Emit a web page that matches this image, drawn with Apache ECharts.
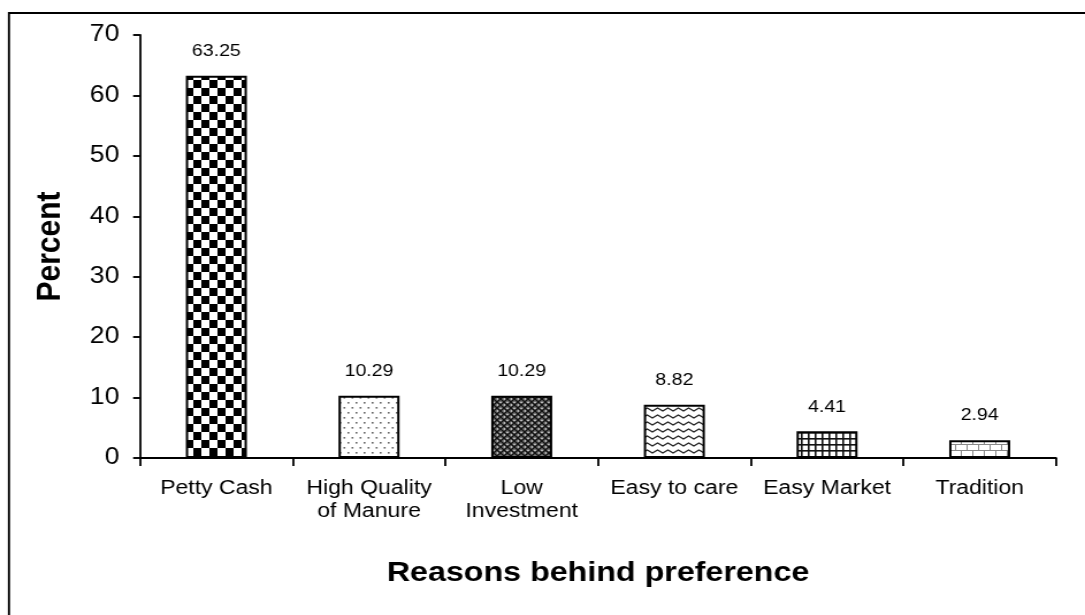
<!DOCTYPE html>
<html>
<head>
<meta charset="utf-8">
<script src="https://cdn.jsdelivr.net/npm/echarts@6/dist/echarts.min.js"></script>
<style>
  html, body { margin: 0; padding: 0; background: #fff; overflow: hidden; }
  /* chart is laid out narrower and widened horizontally, like the original wide figure */
  #chart { width: 943px; height: 615px; transform: scaleX(1.1506); transform-origin: 0 0; }
</style>
</head>
<body>
<div id="chart"></div>
<script>
const categories = ['Petty Cash', 'High Quality\nof Manure', 'Low\nInvestment', 'Easy to care', 'Easy Market', 'Tradition'];
const percentValues = [63.25, 10.29, 10.29, 8.82, 4.41, 2.94];
const yTicks = { min: 0, max: 70, interval: 10 };

const FONT = '"Liberation Sans", Arial, sans-serif';

function tile(w, h, draw) {
  const c = document.createElement('canvas');
  c.width = w; c.height = h;
  const g = c.getContext('2d');
  g.fillStyle = '#fff';
  g.fillRect(0, 0, w, h);
  draw(g, w, h);
  return { image: c, repeat: 'repeat' };
}

// checkerboard
const checker = tile(14, 16, (g) => {
  g.fillStyle = '#000';
  g.fillRect(0, 0, 7, 8);
  g.fillRect(7, 8, 7, 8);
});
// sparse staggered dots
const dots = tile(7, 10, (g) => {
  g.fillStyle = '#666';
  g.fillRect(1, 2, 1.6, 1.6);
  g.fillRect(4.5, 7, 1.6, 1.6);
});
// dark diagonal weave
const weave = tile(6, 6, (g) => {
  g.fillStyle = '#777';
  g.fillRect(0, 0, 6, 6);
  g.strokeStyle = '#111';
  g.lineWidth = 1.3;
  g.beginPath();
  g.moveTo(0, 0); g.lineTo(6, 6);
  g.moveTo(6, 0); g.lineTo(0, 6);
  g.stroke();
  g.fillStyle = '#fff';
  g.fillRect(2.5, 0, 1, 1);
  g.fillRect(0, 2.5, 1, 1);
});
// horizontal waves
const wave = tile(9, 7, (g) => {
  g.strokeStyle = '#222';
  g.lineWidth = 1.3;
  g.beginPath();
  g.moveTo(-2.25, 2);
  g.lineTo(0, 5);
  g.lineTo(4.5, 2);
  g.lineTo(9, 5);
  g.lineTo(11.25, 2);
  g.stroke();
});
// square grid
const grid = tile(6, 6, (g) => {
  g.fillStyle = '#111';
  g.fillRect(0, 0, 1.6, 6);
  g.fillRect(0, 0, 6, 1.6);
});
// brick
const brick = tile(10, 12, (g) => {
  g.fillStyle = '#888';
  g.fillRect(0, 0, 10, 1);
  g.fillRect(0, 6, 10, 1);
  g.fillRect(0, 0, 1, 6);
  g.fillRect(5, 6, 1, 6);
});
const fills = [checker, dots, weave, wave, grid, brick];

const chart = echarts.init(document.getElementById('chart'), null, { renderer: 'canvas' });

chart.setOption({
  backgroundColor: '#fff',
  animation: false,
  textStyle: { fontFamily: FONT, color: '#000' },
  grid: { left: 121.7, right: 25.2, top: 35, bottom: 157, containLabel: false },
  graphic: [{
    type: 'rect',
    shape: { x: 7.8, y: 13, width: 2000, height: 2000 },
    style: { fill: null, stroke: '#000', lineWidth: 1.9 },
    silent: true
  }],
  xAxis: {
    type: 'category',
    data: categories,
    name: 'Reasons behind preference',
    nameLocation: 'middle',
    nameGap: 101,
    nameTextStyle: { fontFamily: FONT, fontSize: 28, fontWeight: 'bold', color: '#000' },
    axisLine: { show: true, lineStyle: { color: '#000', width: 1.9 } },
    axisTick: { show: true, length: 8, alignWithLabel: false, lineStyle: { color: '#000', width: 1.8 } },
    axisLabel: {
      interval: 0, margin: 19, fontFamily: FONT, fontSize: 20, color: '#000',
      lineHeight: 23, align: 'center'
    },
    splitLine: { show: false }
  },
  yAxis: {
    type: 'value',
    min: yTicks.min, max: yTicks.max, interval: yTicks.interval,
    name: 'Percent',
    nameLocation: 'middle',
    nameRotate: 90,
    nameGap: 63,
    nameTextStyle: { fontFamily: FONT, fontSize: 30, fontWeight: 'bold', color: '#000' },
    axisLine: { show: true, lineStyle: { color: '#000', width: 1.8 } },
    axisTick: { show: true, inside: false, length: 6, lineStyle: { color: '#000', width: 1.9 } },
    axisLabel: { margin: 18, fontFamily: FONT, fontSize: 23, color: '#000' },
    splitLine: { show: false }
  },
  series: [{
    type: 'bar',
    barWidth: 53,
    data: percentValues.map((v, i) => ({
      value: v,
      itemStyle: { color: fills[i], borderColor: '#000', borderWidth: 2 }
    })),
    label: {
      show: true,
      position: 'top',
      distance: 16,
      fontFamily: FONT,
      fontSize: 17,
      color: '#000',
      formatter: (p) => p.value.toFixed(2)
    }
  }]
});
</script>
</body>
</html>
